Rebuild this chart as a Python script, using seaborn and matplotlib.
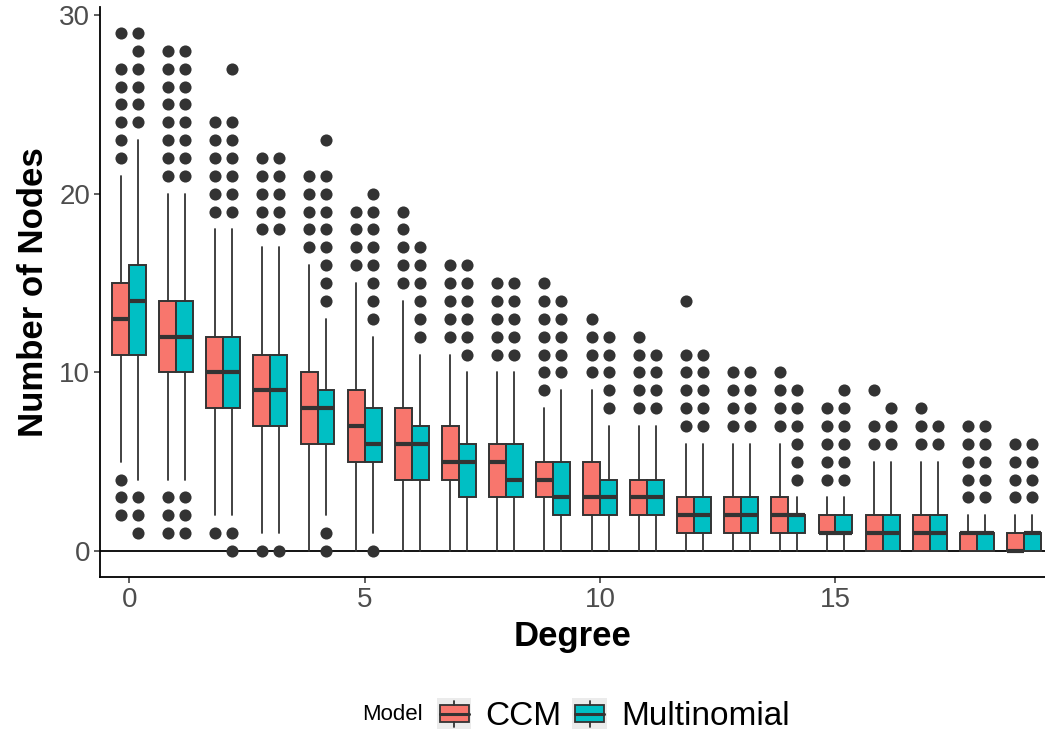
import matplotlib
matplotlib.use("Agg")
import numpy as np
import pandas as pd
import matplotlib.pyplot as plt
import seaborn as sns
from matplotlib.legend_handler import HandlerBase
from matplotlib.patches import Rectangle, Patch
from matplotlib.lines import Line2D

# ------------------------------------------------------------
# Box statistics (per degree 0..19)
# ------------------------------------------------------------
degrees = list(range(20))

ccm_q1 = [11, 10, 8, 7, 6, 5, 4, 4, 3, 3, 2, 2, 1, 1, 1, 1, 0, 0, 0, 0]
ccm_med = [13, 12, 10, 9, 8, 7, 6, 5, 5, 4, 3, 3, 2, 2, 2, 1, 1, 1, 1, 0]
ccm_q3 = [15, 14, 12, 11, 10, 9, 8, 7, 6, 5, 5, 4, 3, 3, 3, 2, 2, 2, 1, 1]
ccm_lo = [5, 4, 2, 1, 0, 0, 0, 0, 0, 0, 0, 0, 0, 0, 0, 0, 0, 0, 0, 0]
ccm_hi = [21, 20, 18, 17, 16, 15, 14, 11, 10, 8, 9, 7, 6, 6, 6, 3, 5, 5, 2, 2]
ccm_out = [
    [2, 3, 4, 22, 23, 24, 25, 26, 27, 29],
    [1, 2, 3, 21, 22, 23, 24, 25, 26, 27, 28],
    [1, 19, 20, 21, 22, 23, 24],
    [0, 18, 19, 20, 21, 22],
    [17, 18, 19, 20, 21],
    [16, 17, 18, 19],
    [15, 16, 17, 18, 19],
    [12, 13, 14, 15, 16],
    [11, 12, 13, 14, 15],
    [9, 10, 11, 12, 13, 14, 15],
    [10, 11, 12, 13],
    [8, 9, 10, 11, 12],
    [7, 8, 9, 10, 11, 14],
    [7, 8, 9, 10],
    [7, 8, 9, 10],
    [4, 5, 6, 7, 8],
    [6, 7, 9],
    [6, 7, 8],
    [3, 4, 5, 6, 7],
    [3, 4, 5, 6],
]

mult_q1 = [11, 10, 8, 7, 6, 5, 4, 3, 3, 2, 2, 2, 1, 1, 1, 1, 0, 0, 0, 0]
mult_med = [14, 12, 10, 9, 8, 6, 6, 5, 4, 3, 3, 3, 2, 2, 2, 1, 1, 1, 1, 1]
mult_q3 = [16, 14, 12, 11, 9, 8, 7, 6, 6, 5, 4, 4, 3, 3, 2, 2, 2, 2, 1, 1]
mult_lo = [4, 4, 2, 1, 2, 1, 0, 0, 0, 0, 0, 0, 0, 0, 0, 0, 0, 0, 0, 0]
mult_hi = [23, 20, 18, 17, 13, 12, 11, 10, 10, 9, 7, 7, 6, 6, 3, 3, 5, 5, 2, 2]
mult_out = [
    [1, 2, 3, 24, 25, 26, 27, 28, 29],
    [1, 2, 3, 21, 22, 23, 24, 25, 26, 27, 28],
    [0, 1, 19, 20, 21, 22, 23, 24, 27],
    [0, 18, 19, 20, 21, 22],
    [0, 1, 14, 15, 16, 17, 18, 19, 20, 21, 23],
    [0, 13, 14, 15, 16, 17, 18, 19, 20],
    [12, 13, 14, 15, 16, 17],
    [11, 12, 13, 14, 15, 16],
    [11, 12, 13, 14, 15],
    [10, 11, 12, 13, 14],
    [8, 9, 10, 11, 12],
    [8, 9, 10, 11],
    [7, 8, 9, 10, 11],
    [7, 8, 9, 10],
    [4, 5, 6, 7, 8, 9],
    [4, 5, 6, 7, 8, 9],
    [6, 7, 8],
    [6, 7],
    [3, 4, 5, 6, 7],
    [3, 4, 5, 6],
]

models = ["CCM", "Multinomial"]
colors = {"CCM": "#F8766D", "Multinomial": "#00BFC4"}
offsets = {"CCM": -0.18, "Multinomial": 0.18}
box_w = 0.36
edge = "#333333"


def make_stats(q1, med, q3, lo, hi):
    return [dict(q1=a, med=b, q3=c, whislo=d, whishi=e, fliers=[])
            for a, b, c, d, e in zip(q1, med, q3, lo, hi)]


stats = {
    "CCM": make_stats(ccm_q1, ccm_med, ccm_q3, ccm_lo, ccm_hi),
    "Multinomial": make_stats(mult_q1, mult_med, mult_q3, mult_lo, mult_hi),
}

rows = []
for model, outs in [("CCM", ccm_out), ("Multinomial", mult_out)]:
    for d, vals in zip(degrees, outs):
        for v in vals:
            rows.append({"degree": d, "model": model, "value": v,
                         "xpos": d + offsets[model]})
outliers = pd.DataFrame(rows)

# ------------------------------------------------------------
# Figure
# ------------------------------------------------------------
sns.set_theme(style="ticks")
plt.rcParams["font.family"] = ["Liberation Sans", "DejaVu Sans"]

fig = plt.figure(figsize=(10.45, 7.36), dpi=100)
ax = fig.add_axes([100 / 1045, 1 - 577 / 736, 945 / 1045, 570 / 736])

ax.axhline(0, color="black", lw=1.3, zorder=1.5)

for model in models:
    ax.bxp(
        stats[model],
        positions=np.array(degrees) + offsets[model],
        widths=box_w,
        patch_artist=True,
        showfliers=False,
        showcaps=False,
        manage_ticks=False,
        boxprops=dict(facecolor=colors[model], edgecolor=edge, linewidth=1.4),
        whiskerprops=dict(color=edge, linewidth=1.3),
        medianprops=dict(color=edge, linewidth=3.0),
        zorder=2,
    )

sns.scatterplot(data=outliers, x="xpos", y="value", color=edge, s=76,
                linewidth=0, ax=ax, legend=False, zorder=3)

ax.set_xlim(-0.62, 19.45)
ax.set_ylim(-1.45, 30.45)
ax.set_xticks([0, 5, 10, 15])
ax.set_yticks([0, 10, 20, 30])
ax.tick_params(axis="both", labelsize=20, labelcolor="#4D4D4D", color=edge,
               length=4, width=1.1, pad=3)
for side in ["top", "right"]:
    ax.spines[side].set_visible(False)
for side in ["left", "bottom"]:
    ax.spines[side].set_color("black")
    ax.spines[side].set_linewidth(1.3)

ax.set_xlabel("Degree", fontsize=25, fontweight="bold", color="black", labelpad=5)
ax.set_ylabel("Number of Nodes", fontsize=25, fontweight="bold", color="black", labelpad=7)


# legend keys drawn like small boxplots
class BoxHandler(HandlerBase):
    def create_artists(self, legend, orig_handle, xdescent, ydescent,
                       width, height, fontsize, trans):
        x0, y0 = -xdescent, -ydescent
        fc = orig_handle.get_facecolor()
        bg = Rectangle((x0, y0), width, height, facecolor="#EBEBEB",
                       edgecolor="none", transform=trans)
        bx = Rectangle((x0 + 0.08 * width, y0 + 0.22 * height), 0.84 * width,
                       0.56 * height, facecolor=fc, edgecolor=edge, lw=1.3,
                       transform=trans)
        cx = x0 + width / 2
        med = Line2D([x0 + 0.08 * width, x0 + 0.92 * width],
                     [y0 + 0.5 * height] * 2, color=edge, lw=2.2, transform=trans)
        w1 = Line2D([cx, cx], [y0 + 0.08 * height, y0 + 0.22 * height],
                    color=edge, lw=1.3, transform=trans)
        w2 = Line2D([cx, cx], [y0 + 0.78 * height, y0 + 0.92 * height],
                    color=edge, lw=1.3, transform=trans)
        return [bg, bx, med, w1, w2]


handles = [Patch(facecolor=colors[m], label=m) for m in models]
fig.text(362 / 1045, 1 - 715 / 736, "Model", fontsize=16, color="black",
         ha="left", va="center")
leg = fig.legend(handles=handles, loc="center left",
                 bbox_to_anchor=(437 / 1045, 1 - 715 / 736), ncol=2, frameon=False,
                 fontsize=24, handlelength=1.03, handleheight=1.05,
                 handletextpad=0.42, columnspacing=0.33, borderpad=0,
                 borderaxespad=0, handler_map={Patch: BoxHandler()})
for t in leg.get_texts():
    t.set_color("black")

fig.savefig("out.png", dpi=100)
